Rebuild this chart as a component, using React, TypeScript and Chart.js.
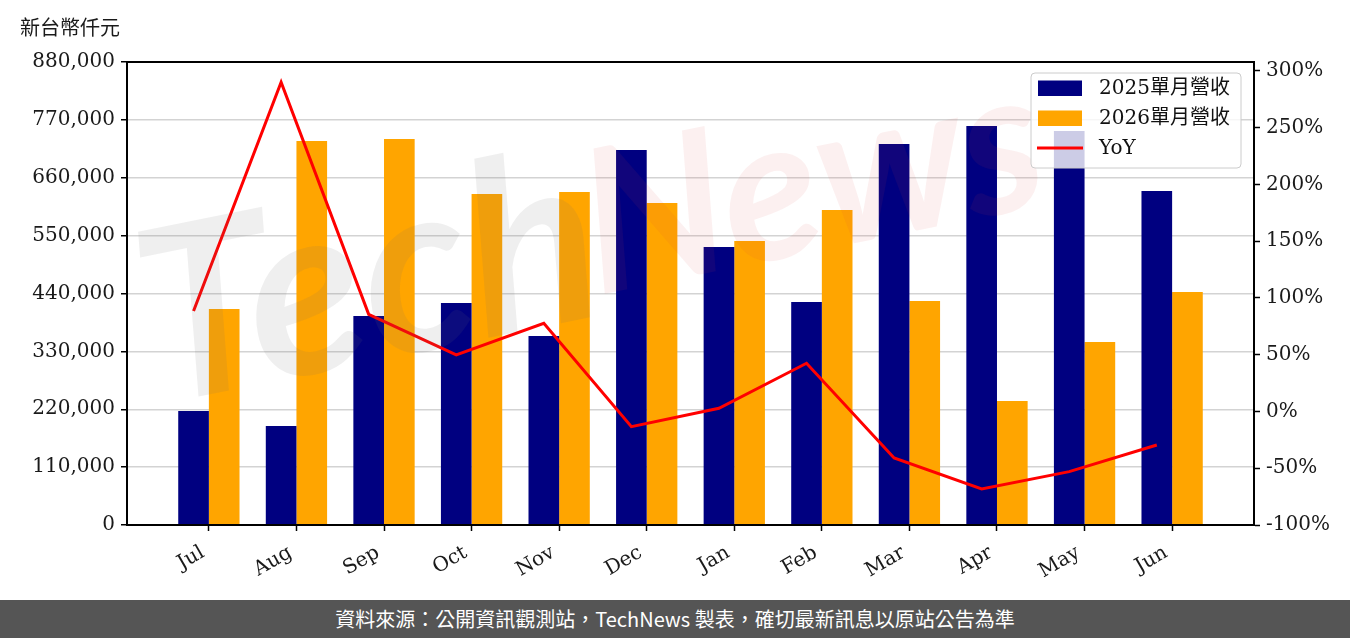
import React, { useEffect, useRef } from 'react';
import { Chart, registerables } from 'chart.js';
Chart.register(...registerables);

const months = ['Jul', 'Aug', 'Sep', 'Oct', 'Nov', 'Dec', 'Jan', 'Feb', 'Mar', 'Apr', 'May', 'Jun'];
const rev2025 = [216700, 188200, 397200, 421900, 359200, 712700, 528400, 423800, 724100, 758300, 748800, 634800];
const rev2026 = [410500, 729800, 733600, 629100, 632900, 612000, 539800, 598700, 425700, 235700, 347800, 442800];
const yoy = [88.5, 290, 85.6, 49.8, 77.7, -13.4, 2.8, 42.5, -41, -68.3, -53, -29.5];
const leftTicks = [0, 110000, 220000, 330000, 440000, 550000, 660000, 770000, 880000];
const rightTicks = [-100, -50, 0, 50, 100, 150, 200, 250, 300];
const legendLabels = ['2025單月營收', '2026單月營收', 'YoY'];
const unitLabel = '新台幣仟元';
const footerText = '資料來源：公開資訊觀測站，TechNews 製表，確切最新訊息以原站公告為準';

const NAVY = '#000080';
const ORANGE = '#FFA500';
const RED = '#FF0000';
const SERIF = '"DejaVu Serif", "Noto Sans CJK TC", serif';
const CJK = '"Noto Sans CJK TC", "Noto Sans", sans-serif';

export default function App() {
  const ref = useRef<HTMLCanvasElement | null>(null);

  useEffect(() => {
    const canvas = ref.current;
    if (!canvas) return;

    const decor = {
      id: 'decor',
      beforeDraw(chart: any) {
        const { ctx } = chart;
        ctx.save();
        ctx.fillStyle = '#fff';
        ctx.fillRect(0, 0, chart.width, chart.height);
        ctx.fillStyle = '#1a1a1a';
        ctx.font = '20px ' + CJK;
        ctx.textBaseline = 'middle';
        ctx.textAlign = 'left';
        ctx.fillText(unitLabel, 20, 27);
        ctx.restore();
      },
      afterDatasetsDraw(chart: any) {
        const { ctx, chartArea: a } = chart;
        // watermark
        ctx.save();
        ctx.beginPath();
        ctx.rect(a.left, a.top, a.right - a.left, a.bottom - a.top);
        ctx.clip();
        ctx.translate(a.left + 30, a.bottom - 120);
        ctx.rotate(-0.2);
        ctx.font = 'italic bold 240px "Lato", sans-serif';
        ctx.textBaseline = 'alphabetic';
        ctx.fillStyle = 'rgba(110,110,110,0.11)';
        ctx.fillText('Tech', 0, 0);
        const w = ctx.measureText('Tech').width;
        ctx.fillStyle = 'rgba(220,60,60,0.08)';
        ctx.font = 'italic bold 200px "Lato", sans-serif';
        ctx.fillText('News', w - 10, -20);
        ctx.restore();

        // frame
        ctx.save();
        ctx.strokeStyle = '#000';
        ctx.lineWidth = 2;
        ctx.strokeRect(a.left, a.top, a.right - a.left, a.bottom - a.top);
        ctx.restore();

        // legend
        ctx.save();
        const lx = a.right - 223;
        const ly = a.top + 11;
        const lw = 210;
        const lh = 95;
        ctx.beginPath();
        if ((ctx as any).roundRect) (ctx as any).roundRect(lx, ly, lw, lh, 4);
        else ctx.rect(lx, ly, lw, lh);
        ctx.fillStyle = 'rgba(255,255,255,0.8)';
        ctx.fill();
        ctx.strokeStyle = '#cccccc';
        ctx.lineWidth = 1;
        ctx.stroke();
        const colors = [NAVY, ORANGE, RED];
        ctx.font = '20px ' + SERIF;
        ctx.textBaseline = 'middle';
        ctx.textAlign = 'left';
        for (let i = 0; i < 3; i++) {
          const cy = ly + 15 + i * 30;
          if (i < 2) {
            ctx.fillStyle = colors[i];
            ctx.fillRect(lx + 7, cy - 7.5, 44, 15.5);
          } else {
            ctx.strokeStyle = colors[i];
            ctx.lineWidth = 3;
            ctx.beginPath();
            ctx.moveTo(lx + 6, cy);
            ctx.lineTo(lx + 52, cy);
            ctx.stroke();
          }
          ctx.fillStyle = '#111';
          ctx.fillText(legendLabels[i], lx + 68, cy + 1);
        }
        ctx.restore();
      },
    };

    const tickFont = { family: SERIF, size: 20 };

    const chart = new Chart(canvas, {
      type: 'bar',
      data: {
        datasets: [
          {
            type: 'bar',
            label: legendLabels[0],
            data: rev2025.map((v, i) => ({ x: i, y: v })),
            backgroundColor: NAVY,
            yAxisID: 'y',
            xAxisID: 'x',
            categoryPercentage: 0.7,
            barPercentage: 1.0,
            order: 1,
          },
          {
            type: 'bar',
            label: legendLabels[1],
            data: rev2026.map((v, i) => ({ x: i, y: v })),
            backgroundColor: ORANGE,
            yAxisID: 'y',
            xAxisID: 'x',
            categoryPercentage: 0.7,
            barPercentage: 1.0,
            order: 1,
          },
          {
            type: 'line',
            label: legendLabels[2],
            data: yoy.map((v, i) => ({ x: i - 0.175, y: v })),
            borderColor: RED,
            backgroundColor: RED,
            borderWidth: 3,
            pointRadius: 0,
            tension: 0,
            yAxisID: 'y1',
            xAxisID: 'x',
            order: -1,
          } as any,
        ],
      },
      options: {
        responsive: false,
        animation: false,
        devicePixelRatio: 1,
        layout: { padding: { top: 62, left: 0, right: 0, bottom: 0 } },
        plugins: {
          legend: { display: false },
          tooltip: { enabled: false },
          title: { display: false },
        },
        scales: {
          x: {
            type: 'linear',
            offset: false,
            min: -0.935,
            max: 11.935,
            afterBuildTicks: (axis: any) => {
              axis.ticks = months.map((_, i) => ({ value: i }));
            },
            afterFit: (scale: any) => {
              scale.height = 75;
            },
            ticks: {
              callback: (v: any) => months[Math.round(Number(v))] ?? '',
              font: tickFont,
              color: '#1a1a1a',
              minRotation: 30,
              maxRotation: 30,
              padding: 10,
              labelOffset: -6,
            },
            grid: { offset: false, drawOnChartArea: false, tickColor: '#000', tickLength: 6, tickWidth: 1.5 },
            border: { color: '#000', width: 2 },
          },
          y: {
            type: 'linear',
            position: 'left',
            min: 0,
            max: 880000,
            afterBuildTicks: (axis: any) => {
              axis.ticks = leftTicks.map((v) => ({ value: v }));
            },
            afterFit: (scale: any) => {
              scale.width = 127;
            },
            ticks: {
              callback: (v: any) => Number(v).toLocaleString('en-US'),
              font: tickFont,
              color: '#1a1a1a',
              padding: 6,
            },
            grid: { color: '#d3d3d3', lineWidth: 1.5, tickColor: '#000', tickLength: 6, tickWidth: 1.5 },
            border: { color: '#000', width: 2 },
          },
          y1: {
            type: 'linear',
            position: 'right',
            min: -100,
            max: 307.9,
            afterBuildTicks: (axis: any) => {
              axis.ticks = rightTicks.map((v) => ({ value: v }));
            },
            afterFit: (scale: any) => {
              scale.width = 96;
            },
            ticks: {
              callback: (v: any) => v + '%',
              font: tickFont,
              color: '#1a1a1a',
              padding: 6,
            },
            grid: { drawOnChartArea: false, tickColor: '#000', tickLength: 6, tickWidth: 1.5 },
            border: { color: '#000', width: 2 },
          },
        },
      },
      plugins: [decor],
    } as any);

    return () => chart.destroy();
  }, []);

  return (
    <div style={{ position: 'absolute', left: 0, top: 0, width: 1350, height: 638, background: '#fff', overflow: 'hidden' }}>
      <canvas ref={ref} width={1350} height={600} style={{ display: 'block', width: 1350, height: 600 }} />
      <div
        style={{
          position: 'absolute',
          left: 0,
          top: 600,
          width: 1350,
          height: 38,
          background: '#555555',
          color: '#fff',
          fontFamily: CJK,
          fontSize: 20,
          lineHeight: '38px',
          textAlign: 'center',
          whiteSpace: 'nowrap',
        }}
      >
        {footerText}
      </div>
    </div>
  );
}
